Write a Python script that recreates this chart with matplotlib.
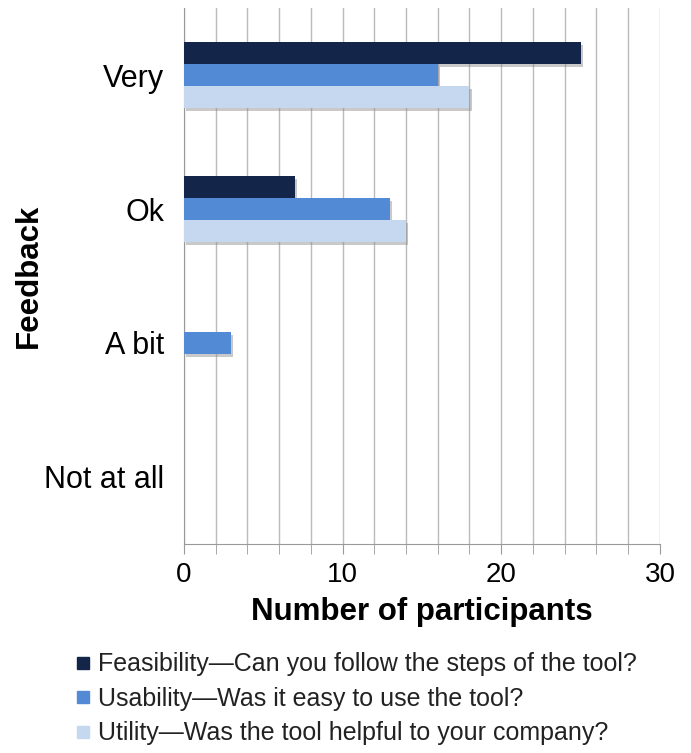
import numpy as np
import matplotlib.pyplot as plt
import matplotlib.patheffects as pe
from matplotlib.lines import Line2D

plt.rcParams['font.family'] = ['Liberation Sans', 'DejaVu Sans']

# data
categories = ['Very', 'Ok', 'A bit', 'Not at all']
feasibility = [25, 7, 0, 0]
usability = [16, 13, 3, 0]
utility = [18, 14, 0, 0]
series_names = ['Feasibility\u2014Can you follow the steps of the tool?',
                'Usability\u2014Was it easy to use the tool?',
                'Utility\u2014Was the tool helpful to your company?']
colors = ['#13264a', '#528ad6', '#c5d8f0']


def main():
    fig = plt.figure(figsize=(6.91, 7.53), dpi=100)
    ax = fig.add_axes([0.266, 0.278, 0.689, 0.711])

    y = np.arange(len(categories))
    h = 0.165
    shadow = [pe.SimplePatchShadow(offset=(1.5, -2), shadow_rgbFace='#888888', alpha=0.45), pe.Normal()]
    for i, vals in enumerate([feasibility, usability, utility]):
        bars = ax.barh(y + (i - 1) * h, vals, height=h, color=colors[i], zorder=3)
        for b in bars:
            if b.get_width() > 0:
                b.set_path_effects(shadow)

    ax.set_xlim(0, 30)
    ax.set_ylim(3.5, -0.5)
    ax.set_xticks(np.arange(0, 31, 10))
    ax.set_xticks(np.arange(0, 31, 2), minor=True)
    ax.set_yticks(y)
    ax.set_yticklabels(categories, fontsize=22)
    ax.tick_params(axis='x', which='both', length=7, color='#999999', labelsize=20, pad=6)
    ax.tick_params(axis='y', length=0, pad=14)
    ax.grid(axis='x', which='both', color='#bbbbbb', linewidth=1, zorder=0)

    for s in ['top', 'right']:
        ax.spines[s].set_visible(False)
    for s in ['left', 'bottom']:
        ax.spines[s].set_color('#999999')

    ax.set_xlabel('Number of participants', fontsize=22.5, fontweight='bold', labelpad=7)
    ax.set_ylabel('Feedback', fontsize=22.5, fontweight='bold', labelpad=0)

    handles = [Line2D([], [], marker='s', linestyle='none', markersize=9,
                      markerfacecolor=c, markeredgecolor=c) for c in colors]
    fig.legend(handles, series_names, loc='upper left', bbox_to_anchor=(0.088, 0.147),
               frameon=False, fontsize=18, handletextpad=0.1, labelspacing=0.42,
               handlelength=1.0, borderaxespad=0, labelcolor='#222222')

    fig.savefig('out.png', dpi=100)


if __name__ == '__main__':
    main()
